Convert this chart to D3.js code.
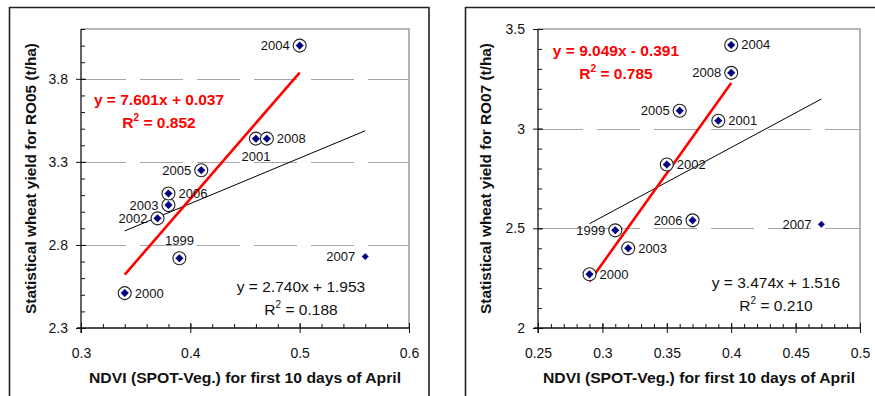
<!DOCTYPE html>
<html>
<head>
<script src="https://d3js.org/d3.v7.min.js"></script>
<style>
    body { margin: 0; background: #fff; }
    svg { display: block; font-family: "Liberation Sans", Arial, sans-serif; }
    .grid line { stroke: #a6a6a6; stroke-width: 1; stroke-dasharray: 43 14; }
    .ptlabel { font-size: 13px; fill: #111; }
    .ticklab { font-size: 14px; fill: #111; }
    .atitle { font-size: 14px; font-weight: bold; fill: #111; }
</style>
</head>
<body>
<svg width="875" height="396"></svg>
<script>
// values
var years = ["1999", "2000", "2001", "2002", "2003", "2004", "2005", "2006", "2007", "2008"];

var ndviRO05 = [0.39, 0.34, 0.46, 0.37, 0.38, 0.50, 0.41, 0.38, 0.56, 0.47];
var yieldRO05 = [2.72, 2.51, 3.44, 2.96, 3.04, 4.00, 3.25, 3.11, 2.73, 3.44];

var ndviRO07 = [0.31, 0.29, 0.39, 0.35, 0.32, 0.40, 0.36, 0.37, 0.47, 0.40];
var yieldRO07 = [2.49, 2.27, 3.04, 2.82, 2.40, 3.42, 3.09, 2.54, 2.52, 3.28];

// the outlier left out of the red fit (no circle round it)
var excluded = ["2007"];

// fits: [slope, intercept, r2]
var fitAllRO05 = [2.740, 1.953, "0.188"];
var fitRedRO05 = [7.601, 0.037, "0.852"];
var fitAllRO07 = [3.474, 1.516, "0.210"];
var fitRedRO07 = [9.049, -0.391, "0.785"];

var xTicksRO05 = [0.3, 0.4, 0.5, 0.6];
var yTicksRO05 = [2.3, 2.8, 3.3, 3.8];
var xTicksRO07 = [0.25, 0.3, 0.35, 0.4, 0.45, 0.5];
var yTicksRO07 = [2, 2.5, 3, 3.5];

var sideRO05 = ["above", "right", "below", "left", "left", "left", "left", "right", "left", "right"];
var sideRO07 = ["left", "right", "right", "right", "right", "right", "left", "left", "left", "left"];

var xTitle = "NDVI (SPOT-Veg.) for first 10 days of April";

var svg = d3.select("svg");

// outer frames
svg.append("path").attr("d", "M9.5,400 V7.5 H429 V400")
    .attr("fill", "none").attr("stroke", "#222").attr("stroke-width", 1.6);
svg.append("path").attr("d", "M465.5,400 V7.5 H880")
    .attr("fill", "none").attr("stroke", "#222").attr("stroke-width", 1.6);

function fmtEq(f) {
    var s = f[1] < 0 ? " - " : " + ";
    return "y = " + f[0].toFixed(3) + "x" + s + Math.abs(f[1]).toFixed(3);
}

function r2Text(sel, r2, size) {
    sel.append("tspan").text("R");
    sel.append("tspan").attr("dy", -size * 0.45).style("font-size", (size * 0.65) + "px").text("2");
    sel.append("tspan").attr("dy", size * 0.45).text(" = " + r2);
}

function drawPanel(cfg) {
    var x = d3.scaleLinear().domain(cfg.xDomain).range([cfg.left, cfg.right]);
    var y = d3.scaleLinear().domain(cfg.yDomain).range([cfg.bottom, cfg.top]);
    var g = svg.append("g");

    // gridlines at the major y ticks
    g.append("g").attr("class", "grid")
        .selectAll("line")
        .data(cfg.yTicks.filter(function (d) { return d > cfg.yDomain[0] && d < cfg.yDomain[1]; }))
        .enter().append("line")
        .attr("x1", cfg.left + 2).attr("x2", cfg.right)
        .attr("y1", function (d) { return Math.round(y(d)) + 0.5; })
        .attr("y2", function (d) { return Math.round(y(d)) + 0.5; });

    // plot area border (top, right)
    g.append("path")
        .attr("d", "M" + cfg.left + "," + cfg.top + " H" + cfg.right + " V" + cfg.bottom)
        .attr("fill", "none").attr("stroke", "#a0a0a0").attr("stroke-width", 1.6);

    // minor ticks (inside)
    var xMinor = d3.range(cfg.xDomain[0], cfg.xDomain[1] + 1e-9, cfg.xMinorStep);
    var yMinor = d3.range(cfg.yDomain[0], cfg.yDomain[1] + 1e-9, cfg.yMinorStep);
    g.append("g").attr("transform", "translate(0," + cfg.bottom + ")")
        .call(d3.axisTop(x).tickValues(xMinor).tickSize(4).tickFormat(""))
        .call(function (a) { a.select(".domain").remove(); a.selectAll("line").attr("stroke", "#111"); });
    g.append("g").attr("transform", "translate(" + cfg.left + ",0)")
        .call(d3.axisRight(y).tickValues(yMinor).tickSize(4).tickFormat(""))
        .call(function (a) { a.select(".domain").remove(); a.selectAll("line").attr("stroke", "#111"); });

    // major ticks (cross) + labels
    var xa = g.append("g").attr("transform", "translate(0," + cfg.bottom + ")")
        .call(d3.axisBottom(x).tickValues(cfg.xTicks).tickSize(5).tickPadding(15).tickFormat(d3.format("")))
        .call(function (a) { a.select(".domain").remove(); });
    xa.selectAll("line").attr("y1", -5).attr("stroke", "#111");
    xa.selectAll("text").attr("class", "ticklab");
    xa.attr("font-size", null).attr("font-family", null);

    var ya = g.append("g").attr("transform", "translate(" + cfg.left + ",0)")
        .call(d3.axisLeft(y).tickValues(cfg.yTicks).tickSize(5).tickPadding(8).tickFormat(d3.format("")))
        .call(function (a) { a.select(".domain").remove(); });
    ya.selectAll("line").attr("x1", 5).attr("stroke", "#111");
    ya.selectAll("text").attr("class", "ticklab");
    ya.attr("font-size", null).attr("font-family", null);

    // axis lines
    g.append("line").attr("x1", cfg.left - 4).attr("x2", cfg.right)
        .attr("y1", cfg.bottom).attr("y2", cfg.bottom).attr("stroke", "#111").attr("stroke-width", 1.3);
    g.append("line").attr("x1", cfg.left).attr("x2", cfg.left)
        .attr("y1", cfg.top).attr("y2", cfg.bottom + 5).attr("stroke", "#111").attr("stroke-width", 1.3);

    // axis titles
    g.append("text").attr("class", "atitle").attr("text-anchor", "middle")
        .attr("x", (cfg.left + cfg.right) / 2).attr("y", 383)
        .attr("textLength", 312).attr("lengthAdjust", "spacingAndGlyphs")
        .text(xTitle);
    g.append("text").attr("class", "atitle").attr("text-anchor", "middle")
        .attr("transform", "translate(" + cfg.yTitleX + "," + (cfg.top + cfg.bottom) / 2 + ") rotate(-90)")
        .attr("textLength", 271).attr("lengthAdjust", "spacingAndGlyphs")
        .text(cfg.yTitle);

    var pts = years.map(function (yr, i) {
        return { year: yr, x: cfg.xs[i], y: cfg.ys[i], side: cfg.sides[i], inFit: excluded.indexOf(yr) < 0 };
    });

    // fit lines
    function fitLine(f, sub, color, w) {
        var ext = d3.extent(sub, function (d) { return d.x; });
        g.append("line")
            .attr("x1", x(ext[0])).attr("y1", y(f[0] * ext[0] + f[1]))
            .attr("x2", x(ext[1])).attr("y2", y(f[0] * ext[1] + f[1]))
            .attr("stroke", color).attr("stroke-width", w);
    }
    fitLine(cfg.fitAll, pts, "#000", 1);
    fitLine(cfg.fitRed, pts.filter(function (d) { return d.inFit; }), "#ff0000", 2.6);

    // points
    var sym = d3.symbol().type(d3.symbolDiamond2);
    var p = g.selectAll(".pt").data(pts).enter().append("g")
        .attr("transform", function (d) { return "translate(" + x(d.x) + "," + y(d.y) + ")"; });
    p.filter(function (d) { return d.inFit; }).append("circle")
        .attr("r", 6.5).attr("fill", "#fff").attr("stroke", "#222").attr("stroke-width", 1.1);
    p.append("path")
        .attr("d", function (d) { return sym.size(d.inFit ? 46 : 34)(); })
        .attr("fill", "#000080").attr("stroke", "#fff").attr("stroke-width", 0.4);

    p.append("text").attr("class", "ptlabel")
        .attr("text-anchor", function (d) {
            return d.side === "left" ? "end" : d.side === "right" ? "start" : "middle";
        })
        .attr("x", function (d) { return d.side === "left" ? -10 : d.side === "right" ? 10 : 0; })
        .attr("y", function (d) { return d.side === "above" ? -13 : d.side === "below" ? 22 : 4.5; })
        .text(function (d) { return d.year; });

    // equations
    var eqSize = 15.5;
    g.append("text").attr("text-anchor", "middle").attr("fill", "#ff0000")
        .attr("font-weight", "bold").attr("font-size", eqSize + "px")
        .attr("x", cfg.redEq[0]).attr("y", cfg.redEq[1]).text(fmtEq(cfg.fitRed));
    g.append("text").attr("text-anchor", "middle").attr("fill", "#ff0000")
        .attr("font-weight", "bold").attr("font-size", eqSize + "px")
        .attr("x", cfg.redEq[0]).attr("y", cfg.redEq[1] + 23)
        .call(r2Text, cfg.fitRed[2], eqSize);
    g.append("text").attr("text-anchor", "middle").attr("fill", "#111").attr("font-size", eqSize + "px")
        .attr("x", cfg.blackEq[0]).attr("y", cfg.blackEq[1]).text(fmtEq(cfg.fitAll));
    g.append("text").attr("text-anchor", "middle").attr("fill", "#111").attr("font-size", eqSize + "px")
        .attr("x", cfg.blackEq[0]).attr("y", cfg.blackEq[1] + 23)
        .call(r2Text, cfg.fitAll[2], eqSize);
}

drawPanel({
    left: 81, right: 409, top: 29, bottom: 328,
    xDomain: [0.3, 0.6], yDomain: [2.3, 4.1],
    xTicks: xTicksRO05, yTicks: yTicksRO05, xMinorStep: 0.02, yMinorStep: 0.1,
    xs: ndviRO05, ys: yieldRO05, sides: sideRO05,
    fitAll: fitAllRO05, fitRed: fitRedRO05,
    yTitle: "Statistical wheat yield for RO05 (t/ha)", yTitleX: 36,
    redEq: [159, 105], blackEq: [301, 292]
});

drawPanel({
    left: 538, right: 860, top: 29, bottom: 328,
    xDomain: [0.25, 0.5], yDomain: [2, 3.5],
    xTicks: xTicksRO07, yTicks: yTicksRO07, xMinorStep: 0.01, yMinorStep: 0.1,
    xs: ndviRO07, ys: yieldRO07, sides: sideRO07,
    fitAll: fitAllRO07, fitRed: fitRedRO07,
    yTitle: "Statistical wheat yield for RO07 (t/ha)", yTitleX: 491,
    redEq: [616, 56], blackEq: [776, 288]
});
</script>
</body>
</html>
